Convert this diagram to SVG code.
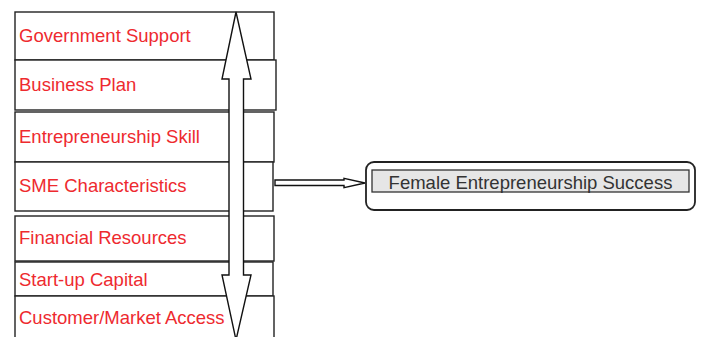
<svg xmlns="http://www.w3.org/2000/svg" width="701" height="337" viewBox="0 0 701 337">
<style>
.box{fill:#fff;stroke:#222;stroke-width:1.4}
.lbl{font-family:"Liberation Sans",Arial,sans-serif;font-size:18.5px;fill:#ee2a2f}
.arr{fill:#fff;stroke:#111;stroke-width:1.4;stroke-linejoin:miter}
.res{font-family:"Liberation Sans",Arial,sans-serif;font-size:18.5px;fill:#333}
</style>
<rect width="701" height="337" fill="#fff"/>
<g id="n-government-support"><rect class="box" x="15" y="12" width="259" height="48"/><text class="lbl" x="19" y="42">Government Support</text></g>
<g id="n-business-plan"><rect class="box" x="15" y="60" width="261" height="50"/><text class="lbl" x="19" y="91">Business Plan</text></g>
<g id="n-entrepreneurship-skill"><rect class="box" x="15" y="112" width="259" height="50"/><text class="lbl" x="19" y="143">Entrepreneurship Skill</text></g>
<g id="n-sme-characteristics"><rect class="box" x="15" y="162" width="258" height="49"/><text class="lbl" x="19" y="192">SME Characteristics</text></g>
<g id="n-financial-resources"><rect class="box" x="15" y="216" width="259" height="45"/><text class="lbl" x="19" y="244">Financial Resources</text></g>
<g id="n-startup-capital"><rect class="box" x="15" y="262" width="258" height="34"/><text class="lbl" x="19" y="286">Start-up Capital</text></g>
<g id="n-customer-market-access"><rect class="box" x="15" y="296" width="259" height="50"/><text class="lbl" x="19" y="324">Customer/Market Access</text></g>
<g id="n-female-success">
<rect x="366" y="162" width="329" height="48" rx="8" ry="8" fill="#fff" stroke="#222" stroke-width="1.8"/>
<rect x="372" y="170" width="317" height="22" fill="#e6e6e6" stroke="#333" stroke-width="1.3"/>
<text class="res" x="530.5" y="189" text-anchor="middle">Female Entrepreneurship Success</text>
</g>
<g id="connectors">
<polygon class="arr" points="236,12 251,79 243.5,79 243.5,275 251,275 236,340 222,275 229,275 229,79 222,79"/>
<polygon class="arr" points="275,180 344,180 344,178.3 365,183 344,187.7 344,185.5 275,185.5"/>
</g>
</svg>
